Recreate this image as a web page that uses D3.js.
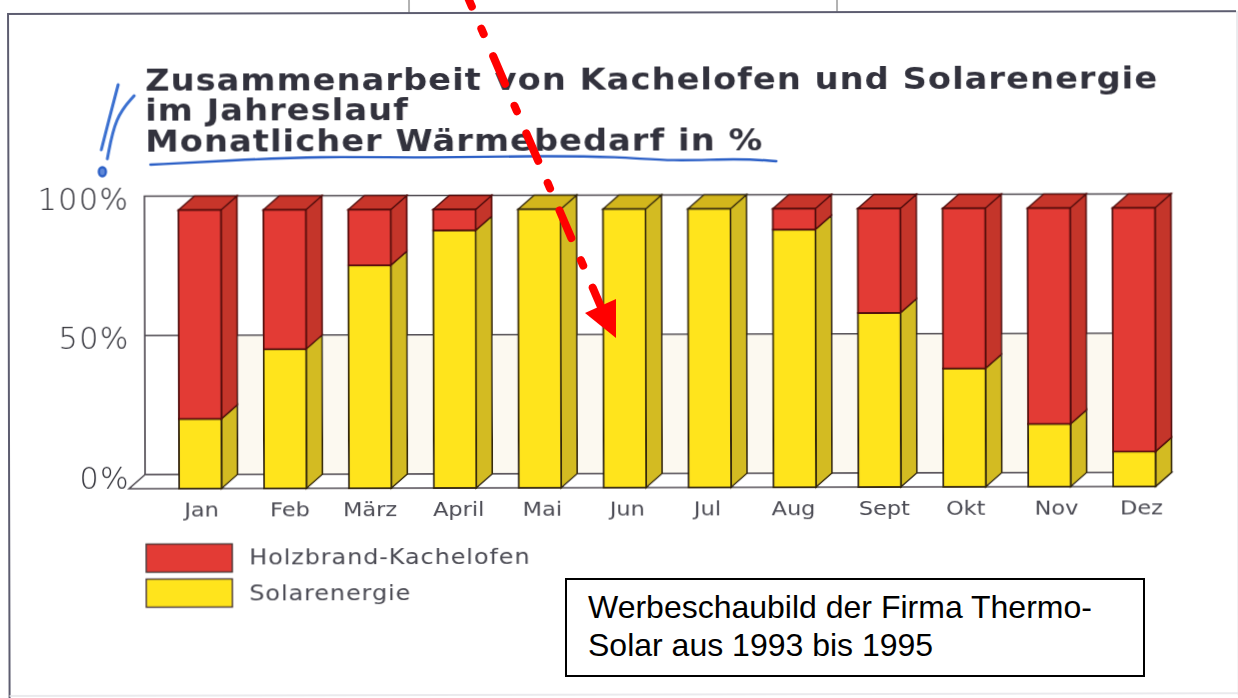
<!DOCTYPE html>
<html>
<head>
<meta charset="utf-8">
<script src="https://cdn.jsdelivr.net/npm/d3@7"></script>
<style>
html, body { margin: 0; padding: 0; background: #fff; overflow: hidden; }
svg { display: block; }
.soft { font-family: "DejaVu Sans", sans-serif; fill: #4c4c54; }
</style>
</head>
<body>
<script>
// values, percent of monthly heat demand
var months = ["Jan", "Feb", "März", "April", "Mai", "Jun", "Jul", "Aug", "Sept", "Okt", "Nov", "Dez"];
var solar = [25, 50, 80, 92.5, 100, 100, 100, 92.5, 62.5, 42.5, 22.5, 12.5];
var holz = [75, 50, 20, 7.5, 0, 0, 0, 7.5, 37.5, 57.5, 77.5, 87.5];
var seriesNames = ["Solarenergie", "Holzbrand-Kachelofen"];
var legendNames = ["Holzbrand-Kachelofen", "Solarenergie"];
var yTicks = [0, 50, 100];
var titleLines = ["Zusammenarbeit von Kachelofen und Solarenergie", "im Jahreslauf", "Monatlicher Wärmebedarf in %"];
var noteLines = ["Werbeschaubild der Firma Thermo-", "Solar aus 1993 bis 1995"];

var outWidth = 1238, outHeight = 698;
var depthX = 16, depthY = 14;   // 3d offset of the bars
var colors = {
	"Solarenergie": {front: "#ffe41c", side: "#d3bb22", top: "#d3b61e", line: "#33260f"},
	"Holzbrand-Kachelofen": {front: "#e33a34", side: "#c4342c", top: "#c7362c", line: "#520c0a"}
};

var svg = d3.select("body").append("svg")
	.attr("width", outWidth)
	.attr("height", outHeight);

// slight softness, the reference is a scan
svg.append("defs").append("filter")
	.attr("id", "scanBlur")
	.attr("filterUnits", "userSpaceOnUse")
	.attr("x", 0).attr("y", 0)
	.attr("width", outWidth).attr("height", outHeight)
	.append("feGaussianBlur").attr("stdDeviation", 0.45);

// the scanned page sits slightly crooked
var scan = svg.append("g").attr("transform", "rotate(-0.13)").attr("filter", "url(#scanBlur)");

// scales
var xScale = d3.scaleBand().domain(months).range([178, 1154.5]).paddingInner(0.5).paddingOuter(0);
var yFront = d3.scaleLinear().domain([0, 100]).range([489, 210.5]);
var yBack = d3.scaleLinear().domain([0, 100]).range([489 - depthY, 210.5 - depthY]);

// page frame
scan.append("path")
	.attr("d", "M1236,14H8V698")
	.attr("fill", "none").attr("stroke", "#5d5d70").attr("stroke-width", 2);
scan.append("path")
	.attr("d", "M1237,14V698M8,696H1237")
	.attr("fill", "none").attr("stroke", "#e4e4e8").attr("stroke-width", 1.5);
[409, 837].forEach(function(x) {
	scan.append("line").attr("x1", x).attr("x2", x).attr("y1", 0).attr("y2", 13)
		.attr("stroke", "#666").attr("stroke-width", 1);
});

// title, the scan is stretched sideways
scan.append("g")
	.attr("transform", "translate(145,0) scale(1.085,1)")
	.selectAll("text")
	.data(titleLines)
	.enter().append("text")
	.attr("x", 0)
	.attr("y", function(d, i) { return 91 + i * 30.5; })
	.attr("font-family", "DejaVu Sans")
	.attr("font-weight", "bold")
	.attr("font-size", 31)
	.attr("letter-spacing", 1)
	.attr("fill", "#33323c")
	.text(function(d) { return d; });

// back wall and floor
var wallLeft = xScale.range()[0] - 34;
var wallRight = xScale.range()[1] + depthX;
scan.append("rect")
	.attr("x", xScale.range()[0]).attr("y", yBack(50))
	.attr("width", wallRight - xScale.range()[0]).attr("height", yBack(0) - yBack(50))
	.attr("fill", "#fcf9f0");
scan.append("path")
	.attr("d", d3.line()([[wallRight, yBack(100)], [wallLeft, yBack(100)], [wallLeft, yBack(0)], [wallRight, yBack(0)]]))
	.attr("fill", "none").attr("stroke", "#4d4850").attr("stroke-width", 1.6);
scan.append("line")
	.attr("x1", wallLeft).attr("x2", wallRight)
	.attr("y1", yBack(50)).attr("y2", yBack(50))
	.attr("stroke", "#4d4850").attr("stroke-width", 1.4);
scan.append("path")
	.attr("d", d3.line()([[wallLeft, yBack(0)], [wallRight, yBack(0)], [xScale.range()[1], yFront(0)], [wallLeft - depthX, yFront(0)]]) + "Z")
	.attr("fill", "#fff").attr("stroke", "#4d4850").attr("stroke-width", 1.6);

// stacked bars
var rows = months.map(function(m, i) {
	return {month: m, "Solarenergie": solar[i], "Holzbrand-Kachelofen": holz[i]};
});
var stacked = d3.stack().keys(seriesNames)(rows);

stacked.forEach(function(layer) {
	var c = colors[layer.key];
	var bars = scan.append("g").selectAll("g")
		.data(layer.filter(function(d) { return d[1] > d[0]; }))
		.enter().append("g");

	bars.append("path")   // right side
		.attr("d", function(d) {
			var x = xScale(d.data.month) + xScale.bandwidth();
			return d3.line()([[x, yFront(d[0])], [x + depthX, yBack(d[0])], [x + depthX, yBack(d[1])], [x, yFront(d[1])]]) + "Z";
		})
		.attr("fill", c.side).attr("stroke", c.line).attr("stroke-width", 1.6);

	bars.filter(function(d) { return d[1] === 100; })
		.append("path")   // top
		.attr("d", function(d) {
			var x = xScale(d.data.month), w = xScale.bandwidth(), y = yFront(100);
			return d3.line()([[x, y], [x + depthX, yBack(100)], [x + w + depthX, yBack(100)], [x + w, y]]) + "Z";
		})
		.attr("fill", c.top).attr("stroke", c.line).attr("stroke-width", 1.6);

	bars.append("rect")   // front
		.attr("x", function(d) { return xScale(d.data.month); })
		.attr("y", function(d) { return yFront(d[1]); })
		.attr("width", xScale.bandwidth())
		.attr("height", function(d) { return yFront(d[0]) - yFront(d[1]); })
		.attr("fill", c.front).attr("stroke", c.line).attr("stroke-width", 1.8);
});

// axes, only their labels are visible
var yAxis = scan.append("g")
	.attr("transform", "translate(129,0)")
	.call(d3.axisLeft(yBack).tickValues(yTicks).tickSize(0).tickPadding(0).tickFormat(function(d) { return d + "%"; }));
yAxis.select(".domain").remove();
yAxis.selectAll("text")
	.attr("class", "soft")
	.style("fill", "#2e2e36")
	.attr("font-size", 30)
	.attr("font-weight", 200)
	.attr("letter-spacing", 1.5)
	.attr("dy", "0.44em");

// print shifted the month labels a bit off the bar centres
var labelNudge = [1, 4, 0, 3, 2, 2, -2, -1, 4, 1, 6, 6];
var xAxis = scan.append("g")
	.attr("transform", "translate(0,517)")
	.call(d3.axisBottom(xScale).tickSize(0).tickPadding(0));
xAxis.select(".domain").remove();
xAxis.selectAll("text")
	.attr("class", "soft")
	.attr("font-size", 19)
	.attr("y", 0)
	.attr("dy", 0)
	.attr("dx", function(d, i) { return labelNudge[i]; })
	.attr("transform", "scale(1.18,1)");

// legend
var legend = scan.append("g").selectAll("g")
	.data(legendNames)
	.enter().append("g")
	.attr("transform", function(d, i) { return "translate(145," + (544.5 + i * 35) + ")"; });
legend.append("rect")
	.attr("width", 86).attr("height", 28)
	.attr("fill", function(d) { return colors[d].front; })
	.attr("stroke", "#4c3a38").attr("stroke-width", 1.5);
legend.append("text")
	.attr("class", "soft")
	.attr("transform", "translate(103,21) scale(1.14,1)")
	.attr("font-size", 21)
	.attr("letter-spacing", 0.8)
	.text(function(d) { return d; });

// blue pen marks on the scan
var pen = d3.line().curve(d3.curveBasis);
[
	[[118, 85], [110, 115], [101, 150]],
	[[134, 96], [115, 117], [107, 159]]
].forEach(function(stroke) {
	scan.append("path").attr("d", pen(stroke))
		.attr("fill", "none").attr("stroke", "#3a6fd0").attr("stroke-width", 3).attr("stroke-linecap", "round");
});
scan.append("path")
	.attr("d", pen([[150, 165], [230, 161], [316, 157], [435, 159], [534, 157], [620, 158], [671, 163], [738, 160], [776, 163]]))
	.attr("fill", "none").attr("stroke", "#2c5fc6").attr("stroke-width", 2.4).attr("stroke-linecap", "round");
scan.append("ellipse")
	.attr("cx", 102).attr("cy", 172).attr("rx", 3.5).attr("ry", 4.5)
	.attr("fill", "#5f88d8").attr("stroke", "#2c5fc6").attr("stroke-width", 2.4);

// red dashed arrow, added later on top of the scan (not crooked)
svg.append("line")
	.attr("x1", 460).attr("y1", -21).attr("x2", 601).attr("y2", 307)
	.attr("stroke", "#ff0000").attr("stroke-width", 8)
	.attr("stroke-linecap", "round")
	.attr("stroke-dasharray", "30 24 6 24");
svg.append("path")
	.attr("d", d3.line()([[585, 313], [616, 299], [616, 338]]) + "Z")
	.attr("fill", "#ff0000");

// note box
svg.append("rect")
	.attr("x", 566).attr("y", 579).attr("width", 578).attr("height", 97)
	.attr("fill", "#fff").attr("stroke", "#000").attr("stroke-width", 2);
svg.append("g").selectAll("text")
	.data(noteLines)
	.enter().append("text")
	.attr("x", 588)
	.attr("y", function(d, i) { return 618 + i * 38; })
	.attr("font-family", "Liberation Sans")
	.attr("font-size", 32)
	.attr("fill", "#000")
	.text(function(d) { return d; });
</script>
</body>
</html>
